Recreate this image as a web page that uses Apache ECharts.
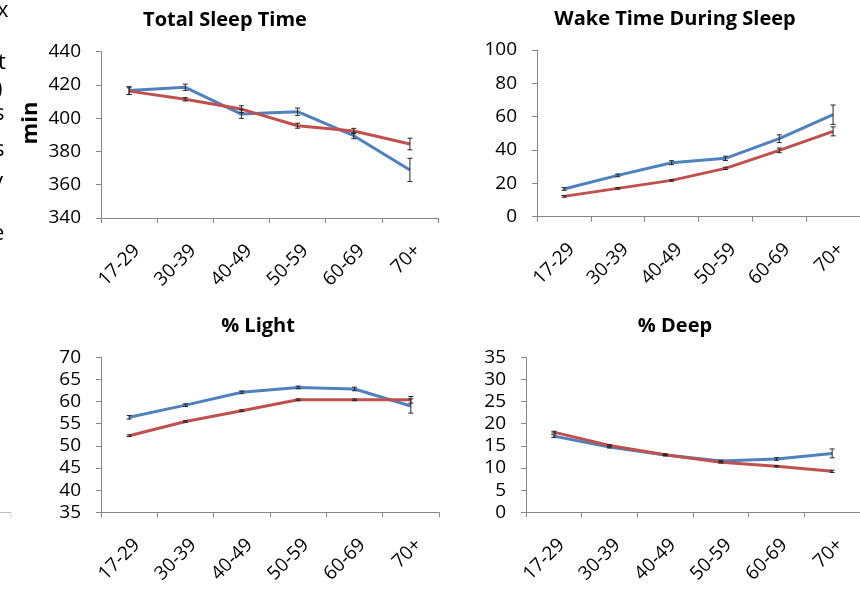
<!DOCTYPE html>
<html>
<head>
<meta charset="utf-8">
<script src="https://cdn.jsdelivr.net/npm/echarts@6/dist/echarts.min.js"></script>
<style>
html,body{margin:0;padding:0;background:#fff;}
#chart{width:860px;height:590px;}
</style>
</head>
<body>
<div id="chart"></div>
<script>
const categories = ['17-29','30-39','40-49','50-59','60-69','70+'];

const tstBlue = [416.6, 418.6, 402.5, 403.9, 389.5, 368.9];
const tstRed  = [416.3, 411.4, 405.5, 395.5, 392.3, 384.5];
const tstBlueErr = [2.4, 1.9, 2.6, 2.2, 1.8, 7.0];
const tstRedErr  = [2.0, 1.0, 2.0, 1.5, 1.6, 3.5];

const wakeBlue = [16.6, 24.8, 32.4, 35.0, 46.8, 61.2];
const wakeRed  = [12.2, 17.0, 21.8, 29.0, 39.8, 51.2];
const wakeBlueErr = [0.8, 0.8, 1.2, 1.3, 2.3, 5.8];
const wakeRedErr  = [0.5, 0.5, 0.5, 0.7, 1.4, 2.7];

const lightBlue = [56.45, 59.2, 62.1, 63.2, 62.85, 59.0];
const lightRed  = [52.3, 55.5, 57.95, 60.4, 60.4, 60.4];
const lightBlueErr = [0.4, 0.3, 0.3, 0.3, 0.4, 1.6];
const lightRedErr  = [0.2, 0.2, 0.2, 0.2, 0.2, 0.75];

const deepBlue = [17.2, 14.74, 12.93, 11.58, 12.03, 13.3];
const deepRed  = [18.1, 15.1, 13.0, 11.28, 10.38, 9.25];
const deepBlueErr = [0.3, 0.2, 0.2, 0.2, 0.3, 1.0];
const deepRedErr  = [0.2, 0.15, 0.15, 0.15, 0.15, 0.25];

const titles = ['Total Sleep Time', 'Wake Time During Sleep', '% Light', '% Deep'];
const yRanges = [[340, 440, 20], [0, 100, 20], [35, 70, 5], [0, 35, 5]];
const yName = 'min';

const BLUE = '#4F81BD', RED = '#C0504D', AXIS = '#868686', FONT = 'Open Sans';

const grids = [
  {left: 101, top: 51.7, width: 337, height: 166.3},
  {left: 537, top: 50, width: 330, height: 166.7},
  {left: 101, top: 357.3, width: 338, height: 155},
  {left: 526, top: 357.3, width: 340, height: 155}
];
const titlePos = [[225, 20], [675, 19], [258, 326], [675, 326]];

const panels = [
  [tstBlue, tstRed, tstBlueErr, tstRedErr],
  [wakeBlue, wakeRed, wakeBlueErr, wakeRedErr],
  [lightBlue, lightRed, lightBlueErr, lightRedErr],
  [deepBlue, deepRed, deepBlueErr, deepRedErr]
];

const xAxes = grids.map((g, i) => ({
  type: 'category', gridIndex: i, data: categories, boundaryGap: true,
  axisLine: {lineStyle: {color: AXIS, width: 1}},
  axisTick: {show: true, length: 5, lineStyle: {color: AXIS}},
  axisLabel: {
    rotate: 45, margin: 22,
    formatter: v => '{a|' + v + '}',
    rich: {a: {fontSize: 19, fontFamily: FONT, color: '#000', padding: [22, 0, 0, 0]}}
  }
}));
const yAxes = grids.map((g, i) => ({
  type: 'value', gridIndex: i, min: yRanges[i][0], max: yRanges[i][1], interval: yRanges[i][2],
  splitLine: {show: false},
  axisLine: {show: true, lineStyle: {color: AXIS, width: 1}},
  axisTick: {show: true, length: 5, lineStyle: {color: AXIS}},
  axisLabel: {fontSize: 19, fontFamily: FONT, color: '#000', margin: 20}
}));

function errSeries(i, vals, errs) {
  return {
    type: 'custom', xAxisIndex: i, yAxisIndex: i, z: 5,
    data: vals.map((v, k) => [k, v, errs[k]]),
    renderItem: function (params, api) {
      const x = api.value(0), v = api.value(1), e = api.value(2);
      const hi = api.coord([x, v + e]);
      const lo = api.coord([x, v - e]);
      const w = 2.5;
      const st = {stroke: '#262626', lineWidth: 1};
      return {type: 'group', children: [
        {type: 'line', shape: {x1: hi[0], y1: hi[1], x2: lo[0], y2: lo[1]}, style: st},
        {type: 'line', shape: {x1: hi[0] - w, y1: hi[1], x2: hi[0] + w, y2: hi[1]}, style: st},
        {type: 'line', shape: {x1: lo[0] - w, y1: lo[1], x2: lo[0] + w, y2: lo[1]}, style: st}
      ]};
    }
  };
}

const series = [];
panels.forEach((p, i) => {
  series.push({type: 'line', xAxisIndex: i, yAxisIndex: i, data: p[0], symbol: 'none',
    lineStyle: {color: BLUE, width: 3}, z: 2});
  series.push({type: 'line', xAxisIndex: i, yAxisIndex: i, data: p[1], symbol: 'none',
    lineStyle: {color: RED, width: 3}, z: 3});
  series.push(errSeries(i, p[0], p[2]));
  series.push(errSeries(i, p[1], p[3]));
});

const graphics = titles.map((t, i) => ({
  type: 'text', x: titlePos[i][0], y: titlePos[i][1],
  style: {text: t, font: 'bold 20px "Open Sans"', fill: '#000', textAlign: 'center', textVerticalAlign: 'middle'}
}));
graphics.push({type: 'text', x: 31, y: 123, rotation: Math.PI / 2,
  style: {text: yName, font: 'bold 22px "Open Sans"', fill: '#000', textAlign: 'center', textVerticalAlign: 'middle'}});
// fragments of neighbouring figure at left edge
const frags = [['x', -3, 11], ['t', -2, 63], [')', -4, 90], ['s', -6, 114], ['s', -6, 150], ['y', -8, 182], ['e', -8, 234]];
frags.forEach(f => graphics.push({type: 'text', x: f[1], y: f[2],
  style: {text: f[0], font: '22px "Open Sans"', fill: '#000', textVerticalAlign: 'middle'}}));
graphics.push({type: 'line', shape: {x1: 0, y1: 512.5, x2: 11, y2: 512.5}, style: {stroke: '#bfbfbf', lineWidth: 1}});
graphics.push({type: 'line', shape: {x1: 11, y1: 512, x2: 11, y2: 518}, style: {stroke: '#d9d9d9', lineWidth: 1}});

const chart = echarts.init(document.getElementById('chart'), null, {renderer: 'canvas'});
chart.setOption({
  animation: false,
  backgroundColor: '#fff',
  grid: grids,
  xAxis: xAxes,
  yAxis: yAxes,
  series: series,
  graphic: graphics
});
</script>
</body>
</html>
